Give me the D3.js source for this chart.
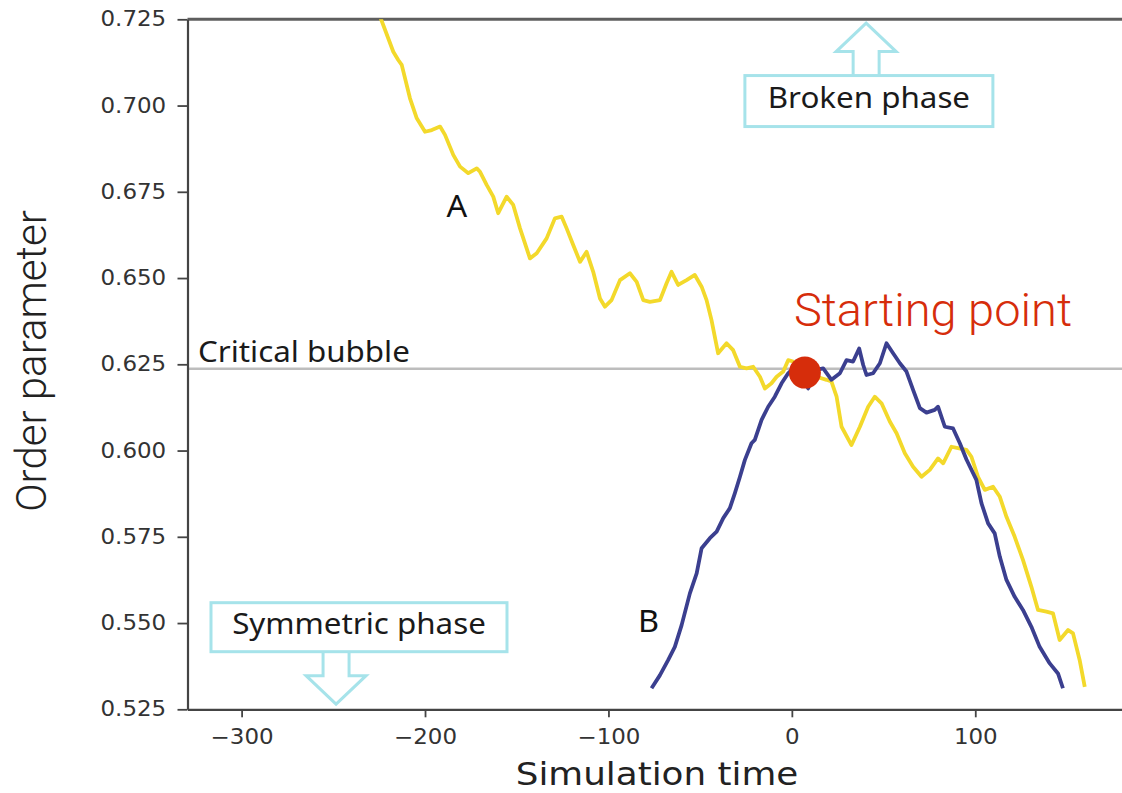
<!DOCTYPE html>
<html>
<head>
<meta charset="utf-8">
<script src="https://cdn.jsdelivr.net/npm/d3@7"></script>
<style>
  body { margin: 0; background: #fff; }
</style>
</head>
<body>
<div class="orderChart"></div>
<script>
// run A (yellow)
const timeA = [-224.8, -217.3, -214.6, -212.7, -208.2, -204.5, -200.0, -196.3, -191.8, -189.1,
  -184.6, -180.9, -176.4, -171.8, -170.0, -166.4, -162.8, -160.1, -155.5, -151.9,
  -148.2, -142.8, -139.1, -133.7, -129.2, -125.5, -122.8, -119.2, -115.5, -111.9,
  -108.3, -104.6, -101.9, -98.3, -93.7, -88.3, -84.6, -81.0, -77.4, -71.9,
  -68.3, -65.6, -62.0, -57.4, -52.9, -49.2, -46.5, -43.8, -40.2, -35.6,
  -32.0, -28.3, -24.7, -21.1, -17.4, -14.7, -11.1, -8.3, -4.7, -2.0,
  0.7, 7.1, 13.5, 18.9, 21.6, 24.4, 27.1, 32.5, 37.1, 41.6,
  45.2, 48.9, 53.4, 57.1, 61.6, 66.1, 70.7, 75.2, 79.7, 82.5,
  87.0, 90.6, 95.2, 97.9, 101.5, 105.2, 109.7, 113.4, 117.0, 121.5,
  126.0, 130.6, 134.2, 138.8, 142.4, 146.0, 150.6, 153.3, 156.9, 159.7]
const orderA = [0.7262, 0.7156, 0.7132, 0.7118, 0.7021, 0.6963, 0.6924, 0.6929, 0.6939, 0.6915,
  0.6857, 0.6823, 0.6804, 0.6818, 0.6808, 0.6770, 0.6736, 0.6688, 0.6736, 0.6712,
  0.6644, 0.6557, 0.6572, 0.6615, 0.6673, 0.6678, 0.6644, 0.6596, 0.6547, 0.6576,
  0.6518, 0.6441, 0.6417, 0.6436, 0.6494, 0.6514, 0.6489, 0.6436, 0.6431, 0.6436,
  0.6485, 0.6518, 0.6480, 0.6494, 0.6509, 0.6475, 0.6436, 0.6378, 0.6282, 0.6311,
  0.6291, 0.6243, 0.6238, 0.6243, 0.6214, 0.6180, 0.6195, 0.6214, 0.6229, 0.6262,
  0.6258, 0.6227, 0.6214, 0.6205, 0.6200, 0.6156, 0.6069, 0.6016, 0.6069, 0.6127,
  0.6156, 0.6137, 0.6084, 0.6050, 0.5992, 0.5953, 0.5924, 0.5944, 0.5977, 0.5963,
  0.6011, 0.6007, 0.6002, 0.5982, 0.5924, 0.5886, 0.5895, 0.5866, 0.5808, 0.5750,
  0.5683, 0.5605, 0.5538, 0.5533, 0.5528, 0.5451, 0.5480, 0.5470, 0.5393, 0.5315]

// run B (blue)
const timeB = [-76.5, -71.9, -67.4, -63.8, -60.1, -55.6, -51.9, -49.2, -44.7, -41.0,
  -37.4, -33.8, -31.1, -28.3, -25.6, -22.0, -20.2, -16.5, -12.9, -9.3,
  -5.6, -2.0, 2.0, 4.4, 8.9, 12.5, 17.1, 21.6, 26.2, 29.8,
  33.4, 36.7, 38.9, 40.7, 44.3, 48.0, 51.6, 55.2, 58.9, 62.5,
  66.1, 69.8, 73.4, 77.9, 79.7, 83.4, 87.9, 91.6, 95.2, 100.6,
  103.4, 107.0, 110.6, 113.4, 117.0, 121.5, 126.0, 130.6, 135.1, 140.6,
  145.1, 147.8]
const orderB = [0.5311, 0.5349, 0.5393, 0.5431, 0.5494, 0.5586, 0.5644, 0.5717, 0.5746, 0.5765,
  0.5804, 0.5833, 0.5876, 0.5924, 0.5973, 0.6021, 0.6031, 0.6089, 0.6127, 0.6156,
  0.6195, 0.6224, 0.6245, 0.6228, 0.6180, 0.6233, 0.6238, 0.6205, 0.6224, 0.6262,
  0.6258, 0.6296, 0.6248, 0.6219, 0.6224, 0.6253, 0.6311, 0.6282, 0.6253, 0.6229,
  0.6176, 0.6123, 0.6110, 0.6118, 0.6127, 0.6069, 0.6064, 0.6021, 0.5974, 0.5915,
  0.5847, 0.5789, 0.5760, 0.5692, 0.5625, 0.5576, 0.5538, 0.5489, 0.5431, 0.5383,
  0.5354, 0.5311]

const xTicks = [-300, -200, -100, 0, 100]
const yTicks = [0.525, 0.550, 0.575, 0.600, 0.625, 0.650, 0.675, 0.700, 0.725]
const criticalValue = 0.6237
const startTime = 7.1
const startValue = 0.6226

function orderParameterChart() {
  const width = 1122
  const height = 793
  const stretch = "scale(1.1,1)"

  const x = d3.scaleLinear().domain([-329.5, 180]).range([187.5, 1122])
  const y = d3.scaleLinear().domain([0.525, 0.725]).range([709.3, 19.3])

  const canvas = d3.select(".orderChart").append("svg")
    .attr("width", width)
    .attr("height", height)
    .style("display", "block")

  canvas.append("clipPath")
    .attr("id", "plotArea")
    .append("rect")
    .attr("x", x.range()[0])
    .attr("y", y.range()[1])
    .attr("width", x.range()[1] - x.range()[0])
    .attr("height", y.range()[0] - y.range()[1])

  // top spine
  canvas.append("line")
    .attr("x1", x.range()[0]).attr("x2", x.range()[1])
    .attr("y1", y.range()[1]).attr("y2", y.range()[1])
    .attr("stroke", "#5e5e5e")
    .attr("stroke-width", 3)

  // critical bubble level
  canvas.append("line")
    .attr("x1", x.range()[0]).attr("x2", x.range()[1])
    .attr("y1", y(criticalValue)).attr("y2", y(criticalValue))
    .attr("stroke", "#bdbdbd")
    .attr("stroke-width", 2.5)

  canvas.append("text")
    .attr("transform", "translate(" + (x.range()[0] + 10.5) + "," + (y(criticalValue) - 7) + ") scale(1.08,1)")
    .style("font-family", "Noto Sans")
    .style("font-size", "29px")
    .attr("fill", "#1a1a1a")
    .text("Critical bubble")

  const line = d3.line()
    .x(d => x(d[0]))
    .y(d => y(d[1]))

  const runs = [
    { points: d3.zip(timeA, orderA), color: "#f3d92b" },
    { points: d3.zip(timeB, orderB), color: "#3b3f8f" }
  ]

  canvas.append("g")
    .attr("clip-path", "url(#plotArea)")
    .selectAll("path")
    .data(runs)
    .enter()
    .append("path")
    .attr("d", d => line(d.points))
    .attr("fill", "none")
    .attr("stroke", d => d.color)
    .attr("stroke-width", 3.8)
    .attr("stroke-linejoin", "round")

  // axes
  const xAxis = canvas.append("g")
    .attr("transform", "translate(0," + y.range()[0] + ")")
    .call(d3.axisBottom(x).tickValues(xTicks).tickSize(8).tickPadding(12).tickSizeOuter(0))

  const yAxis = canvas.append("g")
    .attr("transform", "translate(" + x.range()[0] + ",0)")
    .call(d3.axisLeft(y).tickValues(yTicks).tickFormat(d3.format(".3f")).tickSize(10).tickPadding(9).tickSizeOuter(0))

  ;[xAxis, yAxis].forEach(function(axis) {
    axis.select(".domain").attr("stroke", "#444").attr("stroke-width", 2.2)
    axis.selectAll(".tick line").attr("stroke", "#444").attr("stroke-width", 1.8)
    axis.selectAll(".tick text")
      .attr("transform", "scale(1.12,1)")
      .style("font-family", "DejaVu Sans")
      .style("font-size", "20.5px")
      .attr("fill", "#333")
  })

  canvas.append("text")
    .attr("transform", "translate(657,785) " + stretch)
    .style("text-anchor", "middle")
    .style("font-family", "DejaVu Sans")
    .style("font-size", "32.5px")
    .attr("fill", "#222")
    .text("Simulation time")

  canvas.append("text")
    .attr("transform", "translate(46,361) rotate(-90)")
    .style("text-anchor", "middle")
    .style("font-family", "Roboto")
    .style("font-weight", "300")
    .style("font-size", "42px")
    .attr("fill", "#222")
    .text("Order parameter")

  // run labels
  canvas.append("text")
    .attr("transform", "translate(" + x(-182.6) + "," + y(0.6678) + ") scale(1.08,1)")
    .style("text-anchor", "middle")
    .style("font-family", "Noto Sans")
    .style("font-size", "30px")
    .attr("fill", "#111")
    .text("A")

  canvas.append("text")
    .attr("transform", "translate(" + x(-78.2) + "," + y(0.5475) + ") scale(1.08,1)")
    .style("text-anchor", "middle")
    .style("font-family", "Noto Sans")
    .style("font-size", "30px")
    .attr("fill", "#111")
    .text("B")

  // phase boxes with hollow arrows
  function phaseBox(label, cx, cy, w, h, ax, dir) {
    const g = canvas.append("g")
    const base = dir < 0 ? cy - h / 2 : cy + h / 2
    const s = 24 * dir
    const a = 52.5 * dir
    const pts = [[ax - 13, base], [ax - 13, base + s], [ax - 30, base + s], [ax, base + a],
      [ax + 30, base + s], [ax + 13, base + s], [ax + 13, base]]
    g.append("path")
      .attr("d", d3.line()(pts))
      .attr("fill", "#fff")
      .attr("stroke", "#a6e3ea")
      .attr("stroke-width", 3)
    g.append("rect")
      .attr("x", cx - w / 2)
      .attr("y", cy - h / 2)
      .attr("width", w)
      .attr("height", h)
      .attr("fill", "#fff")
      .attr("stroke", "#a6e3ea")
      .attr("stroke-width", 3)
    g.append("text")
      .attr("transform", "translate(" + cx + "," + (cy + 7) + ") scale(1.08,1)")
      .style("text-anchor", "middle")
      .style("font-family", "Noto Sans")
      .style("font-size", "29px")
      .attr("fill", "#1a1a1a")
      .text(label)
  }

  phaseBox("Broken phase", x(42), y(0.7013), 248, 51, x(40.5), -1)
  phaseBox("Symmetric phase", x(-236), y(0.5488), 296, 49, x(-248.5), 1)

  // starting point
  canvas.append("circle")
    .attr("cx", x(startTime))
    .attr("cy", y(startValue))
    .attr("r", 16)
    .attr("fill", "#d62d0b")

  canvas.append("text")
    .attr("x", x(startTime) - 11)
    .attr("y", y(startValue) - 47)
    .style("font-family", "Roboto")
    .style("font-weight", "300")
    .style("font-size", "47px")
    .attr("fill", "#d62d0b")
    .text("Starting point")
}

orderParameterChart()
</script>
</body>
</html>
